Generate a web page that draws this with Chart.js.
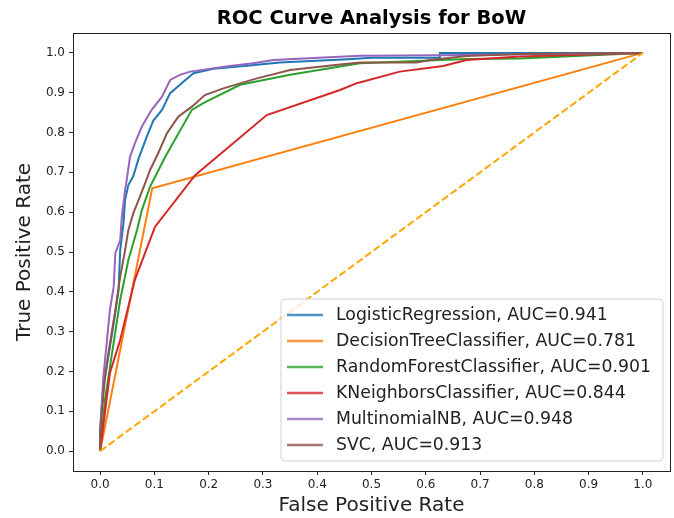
<!DOCTYPE html>
<html><head><meta charset="utf-8">
<script src="https://cdn.jsdelivr.net/npm/chart.js@4/dist/chart.umd.min.js"></script>
<style>html,body{margin:0;padding:0;background:#fff}#wrap{width:674px;height:518px}</style>
</head><body><div id="wrap"><canvas id="c" width="674" height="518"></canvas></div>
<script>
const titleText = "ROC Curve Analysis for BoW";
const xLabel = "False Positive Rate";
const yLabel = "True Positive Rate";
const tickValues = [0,0.1,0.2,0.3,0.4,0.5,0.6,0.7,0.8,0.9,1.0];
const modelNames = ["LogisticRegression","DecisionTreeClassifier","RandomForestClassifier","KNeighborsClassifier","MultinomialNB","SVC"];
const aucValues = [0.941,0.781,0.901,0.844,0.948,0.913];

const lrFpr = [0,0,0.003,0.006,0.015,0.025,0.034,0.037,0.043,0.046,0.052,0.061,0.071,0.086,0.098,0.114,0.129,0.147,0.172,0.209,0.27,0.331,0.457,0.5,0.626,0.626,1];
const lrTpr = [0,0.05,0.11,0.16,0.237,0.32,0.405,0.505,0.572,0.631,0.668,0.69,0.735,0.79,0.83,0.857,0.899,0.92,0.949,0.96,0.968,0.976,0.984,0.988,0.988,1.0,1];
const dtFpr = [0,0.096,1];
const dtTpr = [0,0.66,1];
const rfFpr = [0,0.009,0.018,0.037,0.052,0.068,0.077,0.092,0.12,0.169,0.19,0.258,0.35,0.442,0.479,0.675,0.773,1];
const rfTpr = [0,0.13,0.21,0.38,0.48,0.555,0.606,0.664,0.739,0.857,0.874,0.92,0.945,0.966,0.974,0.985,0.986,1];
const knnFpr = [0,0.018,0.037,0.064,0.101,0.175,0.307,0.442,0.473,0.552,0.632,0.675,0.773,1];
const knnTpr = [0,0.196,0.279,0.43,0.563,0.693,0.844,0.907,0.924,0.953,0.967,0.982,0.991,1];
const nbFpr = [0,0,0.003,0.006,0.012,0.018,0.025,0.028,0.037,0.04,0.046,0.049,0.055,0.064,0.077,0.095,0.114,0.129,0.147,0.166,0.239,0.282,0.319,0.479,0.626,1];
const nbTpr = [0,0.05,0.12,0.187,0.27,0.354,0.413,0.497,0.53,0.589,0.656,0.681,0.739,0.773,0.815,0.857,0.89,0.932,0.945,0.953,0.967,0.974,0.982,0.993,0.994,1];
const svcFpr = [0,0,0.003,0.009,0.018,0.028,0.037,0.046,0.052,0.061,0.071,0.083,0.092,0.107,0.123,0.144,0.169,0.193,0.227,0.289,0.35,0.442,0.479,0.583,0.608,0.675,0.773,1];
const svcTpr = [0,0.04,0.095,0.187,0.27,0.354,0.438,0.505,0.555,0.597,0.631,0.673,0.706,0.748,0.798,0.84,0.865,0.894,0.911,0.936,0.957,0.971,0.976,0.976,0.982,0.992,0.997,1];
const diagFpr = [0,1];
const diagTpr = [0,1];

const colors = ["#1f77b4","#ff7f0e","#2ca02c","#d62728","#9467bd","#8c564b"];
const fprs = [lrFpr,dtFpr,rfFpr,knnFpr,nbFpr,svcFpr];
const tprs = [lrTpr,dtTpr,rfTpr,knnTpr,nbTpr,svcTpr];
const pts = (xs,ys)=>xs.map((x,i)=>({x:x,y:ys[i]}));

const datasets = modelNames.map((n,i)=>({
  label: n + ", AUC=" + aucValues[i].toFixed(3),
  data: pts(fprs[i],tprs[i]),
  borderColor: colors[i], backgroundColor: colors[i],
  borderWidth: 2, showLine: true, pointRadius: 0, tension: 0, order: 20 - i
}));
datasets.push({label:"diag", data: pts(diagFpr,diagTpr), borderColor:"#ffa500", borderWidth:2,
  borderDash:[7.4,3.2], showLine:true, pointRadius:0, order: 1, inLegend:false});

const FONT = "'DejaVu Sans', sans-serif";

const framePlugin = {
  id:'frame',
  afterDatasetsDraw(chart){
    const a = chart.chartArea, ctx = chart.ctx;
    ctx.save();
    // title centered over plot area
    ctx.font = "bold 19.5px " + FONT; ctx.fillStyle = "#000";
    ctx.textAlign = "center"; ctx.textBaseline = "middle";
    ctx.fillText(titleText, (a.left + a.right)/2, 19);
    ctx.strokeStyle = "#222"; ctx.lineWidth = 1;
    ctx.strokeRect(Math.round(a.left)+0.5, Math.round(a.top)+0.5, Math.round(a.right-a.left), Math.round(a.bottom-a.top));
    const items = chart.data.datasets.filter(d=>d.inLegend!==false);
    const bx = a.right - 389, by = a.bottom - 172, bw = 382, bh = 162, r = 4;
    ctx.beginPath();
    ctx.moveTo(bx+r,by); ctx.lineTo(bx+bw-r,by); ctx.quadraticCurveTo(bx+bw,by,bx+bw,by+r);
    ctx.lineTo(bx+bw,by+bh-r); ctx.quadraticCurveTo(bx+bw,by+bh,bx+bw-r,by+bh);
    ctx.lineTo(bx+r,by+bh); ctx.quadraticCurveTo(bx,by+bh,bx,by+bh-r);
    ctx.lineTo(bx,by+r); ctx.quadraticCurveTo(bx,by,bx+r,by); ctx.closePath();
    ctx.fillStyle = "rgba(255,255,255,0.8)"; ctx.fill();
    ctx.strokeStyle = "#d0d0d0"; ctx.lineWidth = 1; ctx.stroke();
    ctx.font = "17.3px " + FONT; ctx.textBaseline = "middle"; ctx.textAlign = "left";
    items.forEach((d,i)=>{
      const y = by + 16 + i*26;
      ctx.strokeStyle = d.borderColor; ctx.lineWidth = 2.5; ctx.globalAlpha = 0.8;
      ctx.beginPath(); ctx.moveTo(bx+6,y); ctx.lineTo(bx+42,y); ctx.stroke();
      ctx.globalAlpha = 1;
      ctx.fillStyle = "#222"; ctx.fillText(d.label, bx+55, y+1);
    });
    ctx.restore();
  }
};

new Chart(document.getElementById('c'), {
  type:'scatter',
  data:{datasets},
  options:{
    responsive:false, animation:false, devicePixelRatio:1,
    layout:{padding:{left:0,right:4,top:33,bottom:0}},
    plugins:{
      legend:{display:false}, tooltip:{enabled:false}, title:{display:false}
    },
    scales:{
      x:{type:'linear', min:-0.05, max:1.05,
        afterBuildTicks(s){ s.ticks = tickValues.map(v=>({value:v})); },
        afterFit(s){ s.height = 47; },
        ticks:{color:"#222", font:{family:FONT,size:12}, padding:3, maxRotation:0, autoSkip:false, callback:v=>v.toFixed(1)},
        grid:{display:true, drawOnChartArea:false, drawTicks:true, tickLength:4, tickColor:"#222"},
        border:{display:false},
        title:{display:true, text:xLabel, color:"#222", font:{family:FONT,size:20}, padding:{top:0,bottom:0}}
      },
      y:{type:'linear', min:-0.05, max:1.05,
        afterBuildTicks(s){ s.ticks = tickValues.map(v=>({value:v})); },
        afterFit(s){ s.width = 73; },
        ticks:{color:"#222", font:{family:FONT,size:12}, padding:4, autoSkip:false, callback:v=>v.toFixed(1)},
        grid:{display:true, drawOnChartArea:false, drawTicks:true, tickLength:4, tickColor:"#222"},
        border:{display:false},
        title:{display:true, text:yLabel, color:"#222", font:{family:FONT,size:20}, padding:{top:13,bottom:0}}
      }
    }
  },
  plugins:[framePlugin]
});
</script>
</body></html>
